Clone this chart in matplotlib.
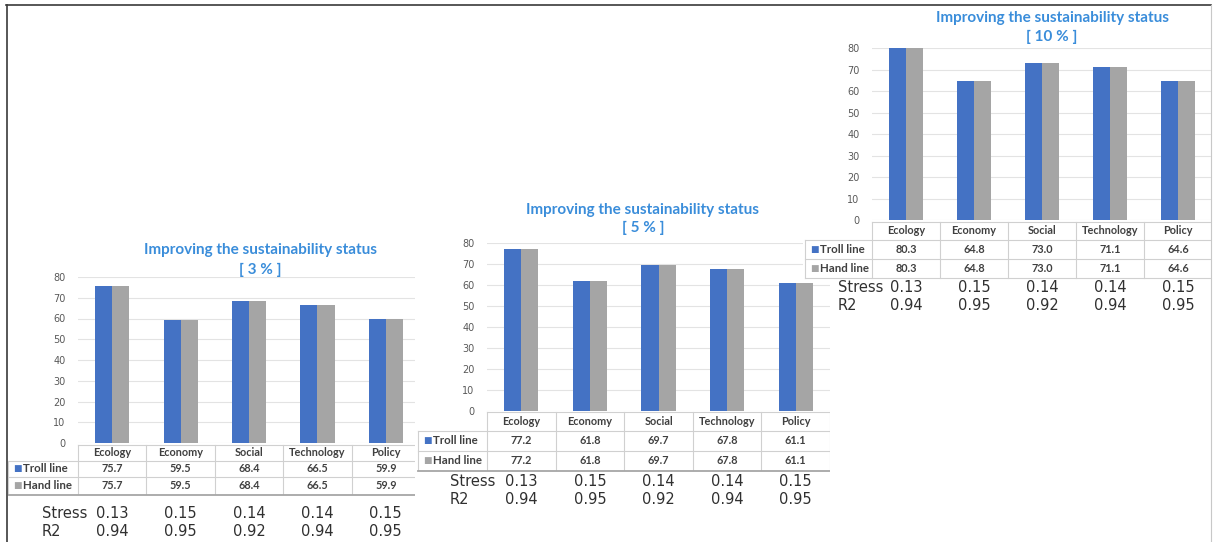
import numpy as np
import matplotlib.pyplot as plt
import matplotlib.transforms as mtransforms
from matplotlib.lines import Line2D

W, H = 1214, 542

categories = ['Ecology', 'Economy', 'Social', 'Technology', 'Policy']
troll_3 = [75.7, 59.5, 68.4, 66.5, 59.9]
hand_3 = [75.7, 59.5, 68.4, 66.5, 59.9]
troll_5 = [77.2, 61.8, 69.7, 67.8, 61.1]
hand_5 = [77.2, 61.8, 69.7, 67.8, 61.1]
troll_10 = [80.3, 64.8, 73.0, 71.1, 64.6]
hand_10 = [80.3, 64.8, 73.0, 71.1, 64.6]
stress = [0.13, 0.15, 0.14, 0.14, 0.15]
r2 = [0.94, 0.95, 0.92, 0.94, 0.95]
yticks = [0, 10, 20, 30, 40, 50, 60, 70, 80]
series_names = ['Troll line', 'Hand line']

BLUE = '#4472C4'
GRAY = '#A5A5A5'
TITLE = '#3A8DDA'
TXT = '#404040'
LINE = '#D0D0D0'


def fig_rect(l, t, r, b):
    return [l / W, 1 - b / H, (r - l) / W, (b - t) / H]


def draw_panel(fig, pct, troll, hand, box, plot, rows, label_left, sep,
               stats_y, stats_x, title_x, title_y):
    # white backing so the panel sits on top of the earlier ones
    bg = fig.add_axes(fig_rect(*box))
    bg.set_xlim(box[0], box[2])
    bg.set_ylim(box[3], box[1])
    bg.set_xticks([])
    bg.set_yticks([])
    for s in bg.spines.values():
        s.set_visible(False)
    bg.set_facecolor('white')

    pl, pr, pt, pb = plot
    ax = fig.add_axes(fig_rect(pl, pt, pr, pb))
    ax.set_facecolor('none')
    x = np.arange(len(categories))
    w = 0.25
    ax.bar(x - w / 2, troll, w, color=BLUE, zorder=3)
    ax.bar(x + w / 2, hand, w, color=GRAY, zorder=3)
    ax.set_xlim(-0.5, len(categories) - 0.5)
    ax.set_ylim(0, 80)
    ax.set_yticks(yticks)
    ax.set_xticks([])
    ax.tick_params(axis='y', length=0, pad=9, labelsize=7, labelcolor='#595959')
    ax.grid(axis='y', color='#E3E3E3', lw=0.8, zorder=0)
    for s in ax.spines.values():
        s.set_visible(False)

    # x from the bar axes, y in pixel rows of the backing axes
    tr = mtransforms.blended_transform_factory(ax.transData, bg.transData)
    edges = np.arange(len(categories) + 1) - 0.5
    right = edges[-1]

    # data table grid
    bg.plot([edges[0], right], [rows[0], rows[0]], color=LINE, lw=0.8, transform=tr)
    bottom_rows = rows[1:] if sep is None else rows[1:3]
    for yy in bottom_rows:
        bg.plot([label_left, pr], [yy, yy], color=LINE, lw=0.8)
    for e in edges:
        bg.plot([e, e], [rows[0], rows[3]], color=LINE, lw=0.8, transform=tr)
    bg.plot([label_left, label_left], [rows[1], rows[3]], color=LINE, lw=0.8)

    tkw = dict(ha='center', va='center', fontsize=7.8, fontweight='bold',
               color=TXT, family='Lato')
    for i, cat in enumerate(categories):
        bg.text(i, (rows[0] + rows[1]) / 2, cat, transform=tr, **tkw)
        bg.text(i, (rows[1] + rows[2]) / 2, f'{troll[i]:.1f}', transform=tr, **tkw)
        bg.text(i, (rows[2] + rows[3]) / 2, f'{hand[i]:.1f}', transform=tr, **tkw)

    for k, (name, col) in enumerate(zip(series_names, [BLUE, GRAY])):
        yc = (rows[k + 1] + rows[k + 2]) / 2
        bg.text(label_left + 5, yc, '\u25A0', ha='left', va='center',
                fontsize=6.5, color=col)
        bg.text(label_left + 15, yc, name, ha='left', va='center',
                fontsize=8.3, fontweight='bold', color=TXT, family='Lato')

    if sep is not None:
        bg.plot([label_left, pr], [sep, sep], color='#A6A6A6', lw=1.3)

    # fit statistics below the table
    for yy, name, vals in [(stats_y[0], 'Stress', stress), (stats_y[1], 'R2', r2)]:
        bg.text(stats_x, yy, name, ha='left', va='center', fontsize=10.5,
                color='#303030')
        for i, v in enumerate(vals):
            bg.text(i, yy, f'{v:.2f}', transform=tr, ha='center', va='center',
                    fontsize=10.5, color='#303030')

    bg.text(title_x, title_y[0], 'Improving the sustainability status',
            ha='center', va='center', fontsize=11, fontweight='bold',
            color=TITLE, family='Lato')
    bg.text(title_x, title_y[1], f'[ {pct} % ]', ha='center', va='center',
            fontsize=11, fontweight='bold', color=TITLE, family='Lato')


fig = plt.figure(figsize=(W / 100, H / 100), dpi=100)
fig.patch.set_facecolor('white')

draw_panel(fig, 3, troll_3, hand_3, box=(8, 236, 420, 542),
           plot=(78, 420, 277, 443), rows=[445, 461, 477, 494],
           label_left=8, sep=495, stats_y=[513, 532], stats_x=42,
           title_x=260, title_y=[250, 270])

draw_panel(fig, 5, troll_5, hand_5, box=(415, 198, 830, 512),
           plot=(487, 830, 243, 411), rows=[412, 431, 451, 470],
           label_left=418, sep=471, stats_y=[482, 500], stats_x=450,
           title_x=643, title_y=[210, 228])

draw_panel(fig, 10, troll_10, hand_10, box=(803, 6, 1212, 280),
           plot=(872, 1212, 48, 220), rows=[222, 240, 259, 278],
           label_left=805, sep=None, stats_y=[287, 305], stats_x=838,
           title_x=1052, title_y=[18, 37])

# outer frame
fig.add_artist(Line2D([6 / W, 1211 / W], [1 - 5 / H, 1 - 5 / H],
                      transform=fig.transFigure, color='#3A3A3A', lw=1.2))
fig.add_artist(Line2D([7 / W, 7 / W], [1 - 5 / H, 0],
                      transform=fig.transFigure, color='#3A3A3A', lw=1.2))
fig.add_artist(Line2D([1211 / W, 1211 / W], [1 - 5 / H, 0],
                      transform=fig.transFigure, color='#C8C8C8', lw=0.8))

fig.savefig('out.png', dpi=100)
